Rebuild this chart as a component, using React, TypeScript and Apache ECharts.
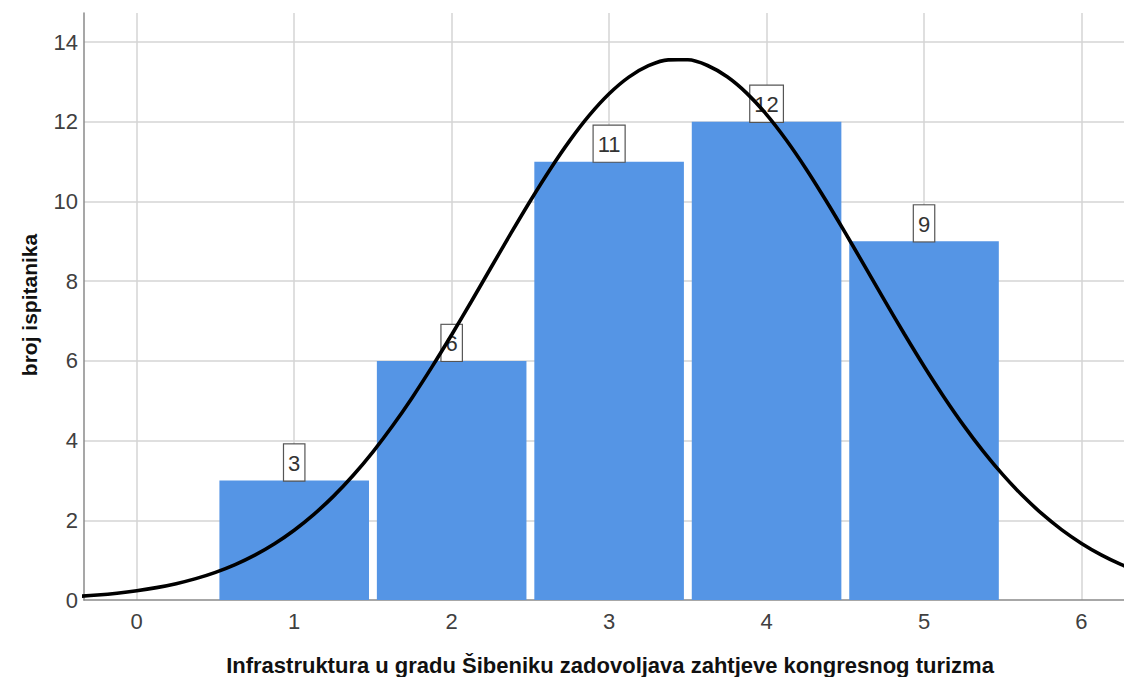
import React, { useEffect, useRef } from "react";
import * as echarts from "echarts";

const categories = [1, 2, 3, 4, 5];
const counts = [3, 6, 11, 12, 9];
const curveX = [
  -0.5, -0.375, -0.25, -0.125, 0, 0.125, 0.25, 0.375, 0.5, 0.625, 0.75, 0.875,
  1, 1.125, 1.25, 1.375, 1.5, 1.625, 1.75, 1.875, 2, 2.125, 2.25, 2.375,
  2.5, 2.625, 2.75, 2.875, 3, 3.125, 3.25, 3.375, 3.5, 3.625, 3.75, 3.875,
  4, 4.125, 4.25, 4.375, 4.5, 4.625, 4.75, 4.875, 5, 5.125, 5.25, 5.375,
  5.5, 5.625, 5.75, 5.875, 6, 6.125, 6.25, 6.375, 6.5,
];
const curveY = [
  0.065, 0.091, 0.125, 0.171, 0.232, 0.31, 0.41, 0.536, 0.694, 0.889, 1.126, 1.412,
  1.751, 2.149, 2.607, 3.131, 3.72, 4.372, 5.084, 5.849, 6.655, 7.491, 8.343, 9.193,
  10.02, 10.804, 11.526, 12.165, 12.702, 13.12, 13.407, 13.554, 13.556, 13.413, 13.129, 12.714,
  12.181, 11.543, 10.823, 10.038, 9.213, 8.364, 7.513, 6.674, 5.866, 5.102, 4.389, 3.736,
  3.145, 2.62, 2.159, 1.76, 1.42, 1.133, 0.894, 0.698, 0.539,
];
const xTitle = "Infrastruktura u gradu Šibeniku zadovoljava zahtjeve kongresnog turizma";
const yTitle = "broj ispitanika";

const FONT = "Liberation Sans, Arial, sans-serif";

export default function App() {
  const ref = useRef<HTMLDivElement>(null);
  useEffect(() => {
    if (!ref.current) return;
    const chart = echarts.init(ref.current, undefined, { renderer: "svg" });
    const halfW = 0.475;
    chart.setOption({
      animation: false,
      backgroundColor: "#ffffff",
      grid: { left: 84, right: 0, top: 13, bottom: 77, containLabel: false },
      xAxis: {
        type: "value",
        min: -0.335,
        max: 6.27,
        minInterval: 1,
        maxInterval: 1,
        axisLine: { show: true, onZero: false, lineStyle: { color: "#8a8a8a", width: 1.5 } },
        axisTick: { show: false },
        axisLabel: {
          fontFamily: FONT,
          fontSize: 22,
          color: "#404040",
          margin: 10,
          showMinLabel: false,
          showMaxLabel: false,
          formatter: (v: number) => (Number.isInteger(v) ? String(v) : ""),
        },
        splitLine: { show: true, showMinLine: false, showMaxLine: false, lineStyle: { color: "#d4d4d4", width: 1.5 } },
      },
      yAxis: {
        type: "value",
        min: 0,
        max: 14.73,
        interval: 2,
        axisLine: { show: true, onZero: false, lineStyle: { color: "#8a8a8a", width: 1.5 } },
        axisTick: { show: false },
        axisLabel: {
          fontFamily: FONT,
          fontSize: 22,
          color: "#404040",
          margin: 6,
          showMaxLabel: false,
          formatter: (v: number) => (Number.isInteger(v) ? String(v) : ""),
        },
        splitLine: { show: true, showMinLine: false, showMaxLine: false, lineStyle: { color: "#d4d4d4", width: 1.5 } },
      },
      graphic: [
        {
          type: "text",
          x: 610,
          y: 665,
          style: {
            text: xTitle,
            fontFamily: FONT,
            fontWeight: "bold",
            fontSize: 22,
            fill: "#111",
            align: "center",
            verticalAlign: "middle",
          },
        },
        {
          type: "text",
          x: 29,
          y: 305,
          rotation: Math.PI / 2,
          style: {
            text: yTitle,
            fontFamily: FONT,
            fontWeight: "bold",
            fontSize: 21,
            fill: "#111",
            align: "center",
            verticalAlign: "middle",
          },
        },
      ],
      series: [
        {
          type: "custom",
          z: 2,
          data: categories.map((c, i) => [c, counts[i]]),
          renderItem: (params: any, api: any) => {
            const x = api.value(0);
            const y = api.value(1);
            const p0 = api.coord([x - halfW, y]);
            const p1 = api.coord([x + halfW, 0]);
            return {
              type: "rect",
              shape: { x: p0[0], y: p0[1], width: p1[0] - p0[0], height: p1[1] - p0[1] },
              style: { fill: "#5595E5" },
              textContent: {
                style: {
                  text: String(y),
                  fontFamily: FONT,
                  fontSize: 22,
                  fill: "#333",
                  backgroundColor: "#ffffff",
                  borderColor: "#555",
                  borderWidth: 1.2,
                  padding: [8, 4, 6, 4],
                },
              },
              textConfig: { position: "top", distance: 0 },
            };
          },
        },
        {
          type: "line",
          z: 5,
          data: curveX.map((x, i) => [x, curveY[i]]),
          smooth: 0.3,
          showSymbol: false,
          symbol: "none",
          lineStyle: { color: "#000", width: 3.6 },
          clip: true,
        },
      ],
    });
    return () => chart.dispose();
  }, []);
  return <div ref={ref} style={{ position: "fixed", left: 0, top: 0, width: 1124, height: 677 }} />;
}
